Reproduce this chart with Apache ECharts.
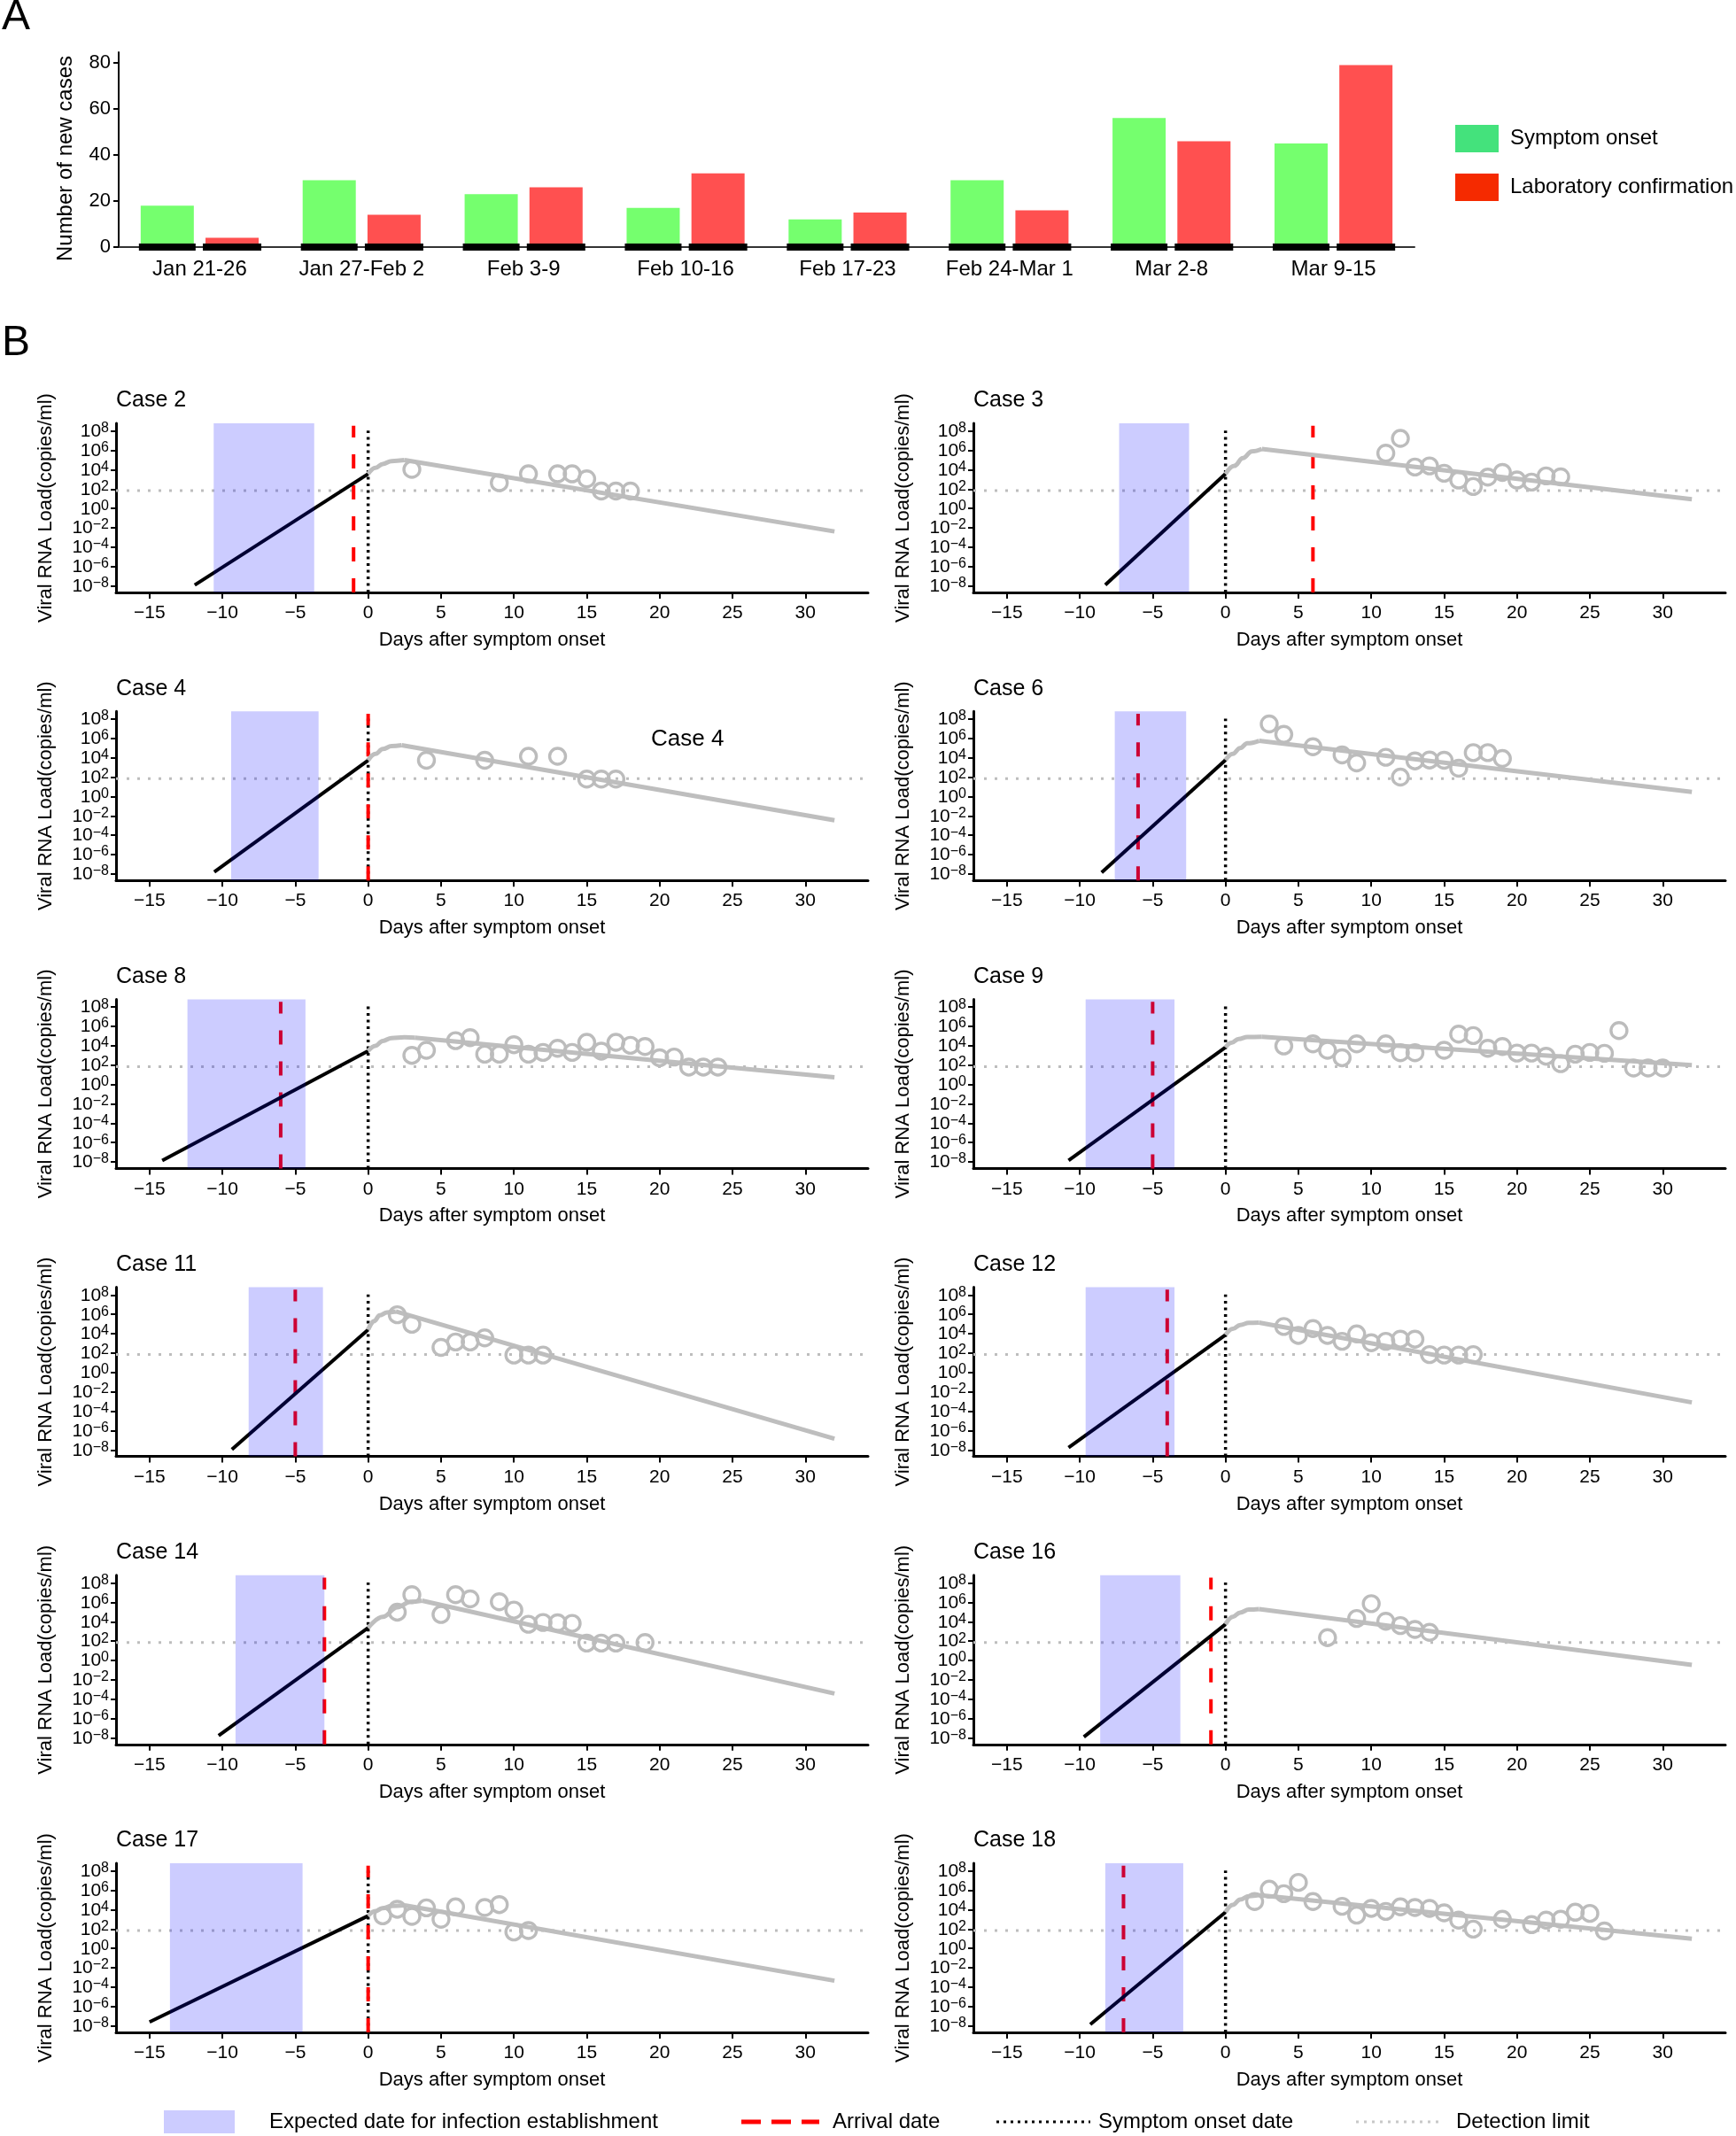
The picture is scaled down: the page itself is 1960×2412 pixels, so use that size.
<!DOCTYPE html>
<html><head><meta charset="utf-8">
<script src="https://cdn.jsdelivr.net/npm/echarts@6/dist/echarts.min.js"></script>
<style>html,body{margin:0;padding:0;background:#fff}#c{width:1960px;height:2412px}</style>
</head><body><div id="c"></div>
<script>
// ---------- Panel A data ----------
const weeks = ['Jan 21-26','Jan 27-Feb 2','Feb 3-9','Feb 10-16','Feb 17-23','Feb 24-Mar 1','Mar 2-8','Mar 9-15'];
const symptomOnset = [18, 29, 23, 17, 12, 29, 56, 45];
const labConfirmation = [4, 14, 26, 32, 15, 16, 46, 79];
const countTicks = [0, 20, 40, 60, 80];

// ---------- Panel B data (viral load in log10 copies/ml) ----------
const caseNames = ['Case 2','Case 3','Case 4','Case 6','Case 8','Case 9','Case 11','Case 12','Case 14','Case 16','Case 17','Case 18'];
const infectionWindow = [[-10.6,-3.7],[-7.3,-2.5],[-9.4,-3.4],[-7.6,-2.7],[-12.4,-4.3],[-9.6,-3.5],[-8.2,-3.1],[-9.6,-3.5],[-9.1,-3.0],[-8.6,-3.1],[-13.6,-4.5],[-8.25,-2.9]];
const arrivalDay = [-1, 6, 0, -6, -6, -5, -5, -4, -3, -1, 0, -7];
const onsetDay = 0;
const detectionLimit = 1.85;
const dayTicks = [-15,-10,-5,0,5,10,15,20,25,30];
const logTicks = [-8,-6,-4,-2,0,2,4,6,8];
const growthLine = [
  [[-11.9,-7.9],[0,3.58]],
  [[-8.25,-7.9],[0,3.58]],
  [[-10.56,-7.8],[0,3.74]],
  [[-8.5,-7.85],[0,3.77]],
  [[-14.13,-7.85],[0,3.47]],
  [[-10.77,-7.85],[0,3.83]],
  [[-9.35,-7.96],[0,4.41]],
  [[-10.77,-7.76],[0,3.89]],
  [[-10.26,-7.76],[0,3.37]],
  [[-9.72,-7.9],[0,3.74]],
  [[-15,-7.6],[0,3.37]],
  [[-9.28,-7.85],[0,3.74]]
];
// rising part (rounded) up to the peak
const fittedRise = [
  [[0,3.58],[0.5,4.2],[1,4.6],[1.6,4.9],[2.5,5.0]],
  [[0,3.58],[0.6,4.4],[1.2,5.2],[1.8,5.9],[2.5,6.15]],
  [[0,3.74],[0.5,4.4],[1,4.9],[1.6,5.2],[2.3,5.3]],
  [[0,3.77],[0.5,4.4],[1,5.0],[1.5,5.5],[2.3,5.75]],
  [[0,3.47],[0.5,4.0],[1,4.5],[1.6,4.8],[2.5,4.87],[3.2,4.83]],
  [[0,3.83],[0.4,4.3],[0.9,4.7],[1.5,4.9],[2.5,4.92]],
  [[0,4.41],[0.4,5.3],[0.8,5.9],[1.3,6.2],[1.9,6.3]],
  [[0,3.89],[0.5,4.5],[1,4.9],[1.6,5.12],[2.3,5.15]],
  [[0,3.37],[1,4.5],[2,5.5],[2.9,6.05],[3.7,6.18]],
  [[0,3.74],[0.5,4.5],[1,4.95],[1.6,5.25],[2.3,5.3]],
  [[0,3.37],[0.5,3.85],[1,4.15],[1.6,4.38],[2.5,4.45]],
  [[0,3.74],[0.5,4.5],[1,5.05],[1.6,5.4],[2.3,5.5]]
];
// value of the straight decline at day 32
const fittedEnd = [-2.37, 0.95, -2.45, 0.48, 0.75, 2.0, -6.84, -3.09, -3.42, -0.45, -3.33, 1.0];
const fitEndDay = 32;
const observed = [
  [[3,4.04],[9,2.66],[11,3.58],[13,3.58],[14,3.58],[15,3.06],[16,1.8],[17,1.8],[18,1.8]],
  [[11,5.71],[12,7.24],[13,4.28],[14,4.4],[15,3.64],[16,2.94],[17,2.27],[18,3.24],[19,3.73],[20,2.94],[21,2.73],[22,3.37],[23,3.27]],
  [[4,3.74],[8,3.74],[11,4.15],[13,4.15],[15,1.8],[16,1.8],[17,1.8]],
  [[3,7.49],[4,6.42],[6,5.14],[8,4.29],[9,3.47],[11,4.05],[12,2.0],[13,3.68],[14,3.77],[15,3.74],[16,2.92],[17,4.53],[18,4.53],[19,3.92]],
  [[3,3.01],[4,3.53],[6,4.53],[7,4.84],[8,3.13],[9,3.13],[10,4.11],[11,3.13],[12,3.31],[13,3.74],[14,3.31],[15,4.35],[16,3.44],[17,4.35],[18,4.05],[19,3.92],[20,2.76],[21,2.83],[22,1.8],[23,1.8],[24,1.8]],
  [[4,3.98],[6,4.19],[7,3.53],[8,2.76],[9,4.19],[11,4.19],[12,3.28],[13,3.28],[15,3.53],[16,5.2],[17,5.05],[18,3.74],[19,3.92],[20,3.25],[21,3.25],[22,2.92],[23,2.15],[24,3.13],[25,3.31],[26,3.22],[27,5.57],[28,1.7],[29,1.7],[30,1.7]],
  [[2,5.96],[3,4.98],[5,2.59],[6,3.15],[7,3.15],[8,3.57],[10,1.8],[11,1.8],[12,1.8]],
  [[4,4.75],[5,3.83],[6,4.53],[7,3.83],[8,3.22],[9,3.98],[10,3.07],[11,3.22],[12,3.44],[13,3.44],[14,1.85],[15,1.8],[16,1.8],[17,1.85]],
  [[2,4.99],[3,6.79],[5,4.75],[6,6.79],[7,6.36],[9,6.06],[10,5.2],[11,3.74],[12,3.92],[13,3.89],[14,3.83],[15,1.8],[16,1.8],[17,1.8],[19,1.85]],
  [[7,2.36],[9,4.33],[10,5.87],[11,4.05],[12,3.6],[13,3.2],[14,2.9]],
  [[1,3.37],[2,4.05],[3,3.31],[4,4.19],[5,3.01],[6,4.29],[8,4.23],[9,4.53],[10,1.7],[11,1.85]],
  [[2,4.84],[3,6.12],[4,5.66],[5,6.82],[6,4.84],[8,4.35],[9,3.44],[10,4.14],[11,3.83],[12,4.29],[13,4.23],[14,4.14],[15,3.68],[16,2.92],[17,2.0],[19,3.01],[21,2.46],[22,2.92],[23,3.01],[24,3.74],[25,3.62],[26,1.8]]
];

// ---------- build ----------
const FONT = '"Liberation Sans", Arial, Helvetica, sans-serif';
const X_MIN = -17.3, X_MAX = 34.3, Y_MIN = -8.67, Y_MAX = 8.8;
const grids = [], xAxes = [], yAxes = [], series = [], graphics = [];

// Panel A
grids.push({left:134, top:59, width:1463, height:220});
xAxes.push({type:'category', gridIndex:0, data:weeks,
  axisLine:{lineStyle:{color:'#333', width:2}}, axisTick:{show:false},
  axisLabel:{fontSize:24, color:'#000', margin:13, interval:0, fontFamily:FONT}});
yAxes.push({type:'value', gridIndex:0, min:0, max:84.6,
  axisLine:{show:true, lineStyle:{color:'#000', width:2}},
  axisTick:{show:true, length:6, customValues:countTicks, lineStyle:{color:'#000', width:2}},
  axisLabel:{customValues:countTicks, fontSize:22, color:'#000', margin:9, fontFamily:FONT},
  splitLine:{show:false}});
series.push({type:'bar', name:'Symptom onset', xAxisIndex:0, yAxisIndex:0, data:symptomOnset,
  barWidth:60, barGap:'22%', itemStyle:{color:'#75ff6e'}});
series.push({type:'bar', name:'Laboratory confirmation', xAxisIndex:0, yAxisIndex:0, data:labConfirmation,
  barWidth:60, barGap:'22%', itemStyle:{color:'#ff5050'}});
series.push({type:'custom', xAxisIndex:0, yAxisIndex:0, data:weeks.map((w,i)=>[i]), encode:{x:0}, z:5,
  renderItem:(params, api)=>{
    const c = api.coord([api.value(0), 0]);
    return {type:'group', children:[
      {type:'rect', shape:{x:c[0]-36.6-32, y:c[1]-4, width:64, height:8}, style:{fill:'#000'}},
      {type:'rect', shape:{x:c[0]+36.6-33, y:c[1]-4, width:66, height:8}, style:{fill:'#000'}}
    ]};
  }});
graphics.push({type:'text', x:74, y:179, rotation:Math.PI/2,
  style:{text:'Number of new cases', font:'24px ' + FONT, fill:'#000', align:'center', verticalAlign:'middle'}});

// Panel B
const fmtDay = v => v < 0 ? '\u2212' + (-v) : String(v);
const fmtExp = v => '{b|10}{s|' + (v < 0 ? '\u2212' + (-v) : v) + '}';
caseNames.forEach((name, i) => {
  const g = i + 1;
  const col = i % 2, row = Math.floor(i / 2);
  const left = col ? 1099 : 131;
  const top = 478 + 325.2 * row;
  grids.push({left:left, top:top, width:849, height:191});
  xAxes.push({type:'value', gridIndex:g, min:X_MIN, max:X_MAX,
    axisLine:{show:true, onZero:false, lineStyle:{color:'#000', width:3}},
    axisTick:{show:true, length:7, customValues:dayTicks, lineStyle:{color:'#000', width:2}},
    axisLabel:{customValues:dayTicks, formatter:fmtDay, fontSize:21, color:'#000', margin:13, fontFamily:FONT},
    splitLine:{show:false},
    name:'Days after symptom onset', nameLocation:'middle', nameGap:43,
    nameTextStyle:{fontSize:22, color:'#000', fontFamily:FONT}});
  yAxes.push({type:'value', gridIndex:g, min:Y_MIN, max:Y_MAX,
    axisLine:{show:true, onZero:false, lineStyle:{color:'#000', width:3}},
    axisTick:{show:true, length:6, customValues:logTicks, lineStyle:{color:'#000', width:2}},
    axisLabel:{customValues:logTicks, formatter:fmtExp, margin:8, fontFamily:FONT,
      rich:{b:{fontSize:21, color:'#000', lineHeight:22, verticalAlign:'bottom', fontFamily:FONT},
            s:{fontSize:16, color:'#000', lineHeight:13, verticalAlign:'top', fontFamily:FONT}}},
    splitLine:{show:false},
    name:'Viral RNA Load(copies/ml)', nameLocation:'middle', nameGap:68,
    nameTextStyle:{fontSize:22, color:'#000', fontFamily:FONT}});
  // detection limit
  series.push({type:'line', xAxisIndex:g, yAxisIndex:g, data:[[X_MIN, detectionLimit],[X_MAX, detectionLimit]],
    symbol:'none', silent:true, z:1, lineStyle:{color:'#bdbdbd', width:3, type:[3,9]}});
  // symptom onset
  series.push({type:'line', xAxisIndex:g, yAxisIndex:g, data:[[onsetDay, Y_MIN],[onsetDay, 8.05]],
    symbol:'none', silent:true, z:2, lineStyle:{color:'#000', width:3.5, type:[3,4.5]}});
  // arrival
  series.push({type:'line', xAxisIndex:g, yAxisIndex:g, data:[[arrivalDay[i], Y_MIN],[arrivalDay[i], 8.55]],
    symbol:'none', silent:true, z:2, lineStyle:{color:'#ff0000', width:4, type:[16,19]}});
  // growth phase
  series.push({type:'line', xAxisIndex:g, yAxisIndex:g, data:growthLine[i],
    symbol:'none', silent:true, z:3, lineStyle:{color:'#000', width:4}});
  // fitted: rounded rise then straight decline
  const rise = fittedRise[i];
  series.push({type:'line', xAxisIndex:g, yAxisIndex:g, data:rise,
    symbol:'none', silent:true, z:3, smooth:0.4, smoothMonotone:'x', lineStyle:{color:'#bebebe', width:5}});
  series.push({type:'line', xAxisIndex:g, yAxisIndex:g, data:[rise[rise.length-1], [fitEndDay, fittedEnd[i]]],
    symbol:'none', silent:true, z:3, lineStyle:{color:'#bebebe', width:5}});
  // observations
  series.push({type:'scatter', xAxisIndex:g, yAxisIndex:g, data:observed[i], symbol:'circle', symbolSize:18,
    silent:true, z:4, itemStyle:{color:'rgba(255,255,255,0)', borderColor:'#bcbcbc', borderWidth:3.4, opacity:1}});
  // infection establishment window
  series.push({type:'custom', xAxisIndex:g, yAxisIndex:g, data:[infectionWindow[i]], encode:{x:[0,1]}, z:6, silent:true,
    renderItem:(params, api)=>{
      const cs = params.coordSys;
      const x1 = api.coord([api.value(0), 0])[0];
      const x2 = api.coord([api.value(1), 0])[0];
      return {type:'rect', shape:{x:x1, y:cs.y, width:x2-x1, height:cs.height}, style:{fill:'rgba(0,0,255,0.2)'}};
    }});
  graphics.push({type:'text', left:left, top:top-38, style:{text:name, font:'25px ' + FONT, fill:'#000'}});
});

// panel letters and extra labels
graphics.push({type:'text', left:2, top:-4, style:{text:'A', font:'48px ' + FONT, fill:'#000'}});
graphics.push({type:'text', left:2, top:364, style:{text:'B', font:'48px ' + FONT, fill:'#000'}});
graphics.push({type:'text', left:735, top:822, style:{text:'Case 4', font:'26px ' + FONT, fill:'#000'}});

// bottom legend
const LY = 2396;
graphics.push({type:'rect', shape:{x:185, y:2383, width:80, height:26}, style:{fill:'#ccccff'}});
graphics.push({type:'text', x:304, y:LY, style:{text:'Expected date for infection establishment', font:'24px ' + FONT, fill:'#000', verticalAlign:'middle'}});
graphics.push({type:'line', shape:{x1:837, y1:LY, x2:925, y2:LY}, style:{stroke:'#ff0000', lineWidth:5, lineDash:[22,12]}});
graphics.push({type:'text', x:940, y:LY, style:{text:'Arrival date', font:'24px ' + FONT, fill:'#000', verticalAlign:'middle'}});
graphics.push({type:'line', shape:{x1:1125, y1:LY, x2:1231, y2:LY}, style:{stroke:'#000', lineWidth:3, lineDash:[3,5]}});
graphics.push({type:'text', x:1240, y:LY, style:{text:'Symptom onset date', font:'24px ' + FONT, fill:'#000', verticalAlign:'middle'}});
graphics.push({type:'line', shape:{x1:1531, y1:LY, x2:1625, y2:LY}, style:{stroke:'#c8c8c8', lineWidth:3, lineDash:[3,6]}});
graphics.push({type:'text', x:1644, y:LY, style:{text:'Detection limit', font:'24px ' + FONT, fill:'#000', verticalAlign:'middle'}});

const chart = echarts.init(document.getElementById('c'), null, {renderer:'canvas'});
chart.setOption({
  animation:false,
  backgroundColor:'#fff',
  textStyle:{fontFamily:FONT},
  legend:{
    data:[{name:'Symptom onset', itemStyle:{color:'#44e27c'}}, {name:'Laboratory confirmation', itemStyle:{color:'#f52a00'}}],
    orient:'vertical', left:1643, top:141, padding:0, itemWidth:49, itemHeight:31, itemGap:24, icon:'rect',
    textStyle:{fontSize:24, color:'#000', fontFamily:FONT, padding:[0,0,0,8]}
  },
  grid:grids, xAxis:xAxes, yAxis:yAxes, series:series, graphic:graphics
});
</script></body></html>
